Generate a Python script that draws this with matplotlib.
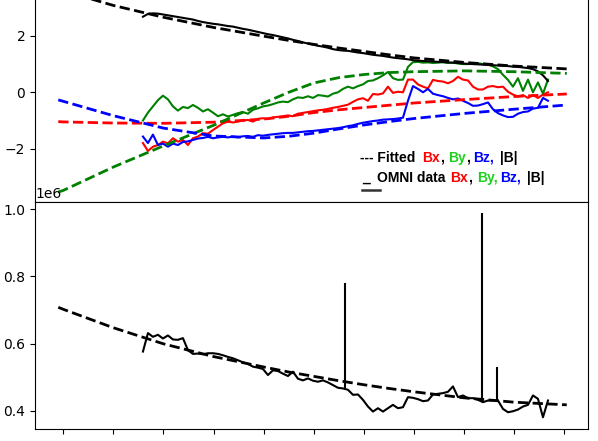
import matplotlib
matplotlib.use('Agg')
import matplotlib.pyplot as plt
import numpy as np

# fitted curves (top: Bx, By, Bz, |B|; bottom: second quantity)
fit_x = [-0.1, 0, 1, 2, 3, 4, 4.5, 5, 5.5, 6, 6.5, 7, 8, 9, 10.05]
fit_bx = [-1.04, -1.05, -1.09, -1.1, -1.06, -0.95, -0.85, -0.72, -0.62, -0.54, -0.46, -0.38, -0.26, -0.15, -0.06]
fit_by = [-3.54, -3.48, -2.65, -1.9, -1.17, -0.38, 0.0, 0.33, 0.52, 0.63, 0.7, 0.73, 0.76, 0.73, 0.67]
fit_bz = [-0.27, -0.32, -0.83, -1.27, -1.55, -1.62, -1.56, -1.45, -1.3, -1.16, -1.04, -0.93, -0.75, -0.6, -0.45]
fit_b = [3.65, 3.6, 3.08, 2.66, 2.3, 1.99, 1.84, 1.7, 1.57, 1.45, 1.33, 1.22, 1.06, 0.93, 0.83]
fit_p = [0.708, 0.702, 0.647, 0.599, 0.561, 0.53, 0.515, 0.502, 0.489, 0.477, 0.466, 0.456, 0.438, 0.425, 0.417]

# OMNI data, evenly sampled
omni_bx = [-1.8, -2.08, -1.93, -1.87, -1.75, -1.81, -1.63, -1.75, -1.69, -1.87,
           -1.63, -1.57, -1.45, -1.47, -1.34, -1.22, -1.1, -1.04, -1.07, -1.04,
           -1.0, -0.98, -1.04, -0.94, -0.92, -0.95, -0.89, -0.87, -0.85, -0.82,
           -0.85, -0.76, -0.73, -0.7, -0.67, -0.64, -0.62, -0.59, -0.55, -0.52,
           -0.48, -0.44, -0.34, -0.25, -0.21, -0.3, -0.06, -0.08, -0.04, 0.2,
           -0.02, 0.02, 0.0, 0.45, 0.45, 0.28, 0.2, 0.14, 0.44, 0.4,
           0.38, 0.32, 0.4, 0.55, 0.45, 0.42, 0.2, 0.1, 0.1, 0.2,
           0.22, 0.18, 0.2, 0.02, -0.08, -0.15, -0.1, -0.2, -0.1, -0.2,
           -0.08, 0.0]
omni_by = [-1.0, -0.72, -0.5, -0.28, -0.12, -0.25, -0.5, -0.65, -0.52, -0.56,
           -0.45, -0.55, -0.68, -0.6, -0.72, -0.85, -0.78, -0.86, -0.8, -0.74,
           -0.7, -0.76, -0.62, -0.57, -0.5, -0.47, -0.42, -0.36, -0.33, -0.35,
           -0.25, -0.18, -0.2, -0.14, -0.2, -0.1, -0.12, -0.15, -0.05, 0.0,
           0.12, 0.2, 0.14, 0.22, 0.28, 0.4, 0.42, 0.5, 0.6, 0.72,
           0.5, 0.44, 0.45, 0.9, 1.07, 1.08, 1.05, 1.06, 1.04, 1.05,
           1.07, 1.04, 1.05, 1.02, 1.0, 1.0, 1.02, 1.03, 1.0, 0.98,
           0.92, 0.82, 0.62, 0.44, 0.2, 0.5, 0.05, 0.45, 0.0, 0.35,
           -0.05, 0.45]
omni_bz = [-1.57, -1.8, -1.5, -1.87, -1.82, -1.93, -1.82, -1.87, -1.76, -1.74,
           -1.69, -1.64, -1.62, -1.58, -1.63, -1.6, -1.58, -1.6, -1.57, -1.6,
           -1.56, -1.55, -1.58, -1.52, -1.54, -1.51, -1.49, -1.47, -1.45, -1.44,
           -1.44, -1.42, -1.4, -1.38, -1.37, -1.35, -1.33, -1.31, -1.29, -1.27,
           -1.24, -1.2, -1.17, -1.12, -1.08, -1.05, -1.02, -1.0, -0.97, -0.96,
           -0.95, -0.93, -0.9, -0.3, 0.22, 0.12, 0.0, 0.12, -0.05, -0.1,
           -0.14, -0.2, -0.25, -0.22, -0.3, -0.38, -0.48, -0.47, -0.42, -0.36,
           -0.6, -0.74, -0.82, -0.88, -0.87, -0.76, -0.7, -0.68, -0.58, -0.55,
           -0.2, -0.3]
omni_b = [2.68, 2.78, 2.8, 2.79, 2.76, 2.73, 2.7, 2.67, 2.64, 2.61,
          2.58, 2.53, 2.49, 2.46, 2.43, 2.41, 2.38, 2.35, 2.33, 2.29,
          2.25, 2.22, 2.18, 2.14, 2.1, 2.06, 2.03, 1.99, 1.95, 1.91,
          1.86, 1.82, 1.77, 1.73, 1.69, 1.65, 1.62, 1.58, 1.53, 1.5,
          1.48, 1.47, 1.44, 1.41, 1.39, 1.36, 1.33, 1.31, 1.29, 1.26,
          1.23, 1.21, 1.19, 1.17, 1.14, 1.12, 1.11, 1.1, 1.09, 1.08,
          1.07, 1.06, 1.05, 1.04, 1.02, 1.01, 1.0, 0.99, 0.98, 0.97,
          0.96, 0.95, 0.94, 0.93, 0.91, 0.9, 0.88, 0.86, 0.82, 0.74,
          0.6, 0.4]
omni_p = [0.576, 0.631, 0.62, 0.626, 0.615, 0.624, 0.612, 0.611, 0.616, 0.58,
          0.569, 0.57, 0.568, 0.571, 0.571, 0.569, 0.565, 0.56, 0.556, 0.55,
          0.544, 0.539, 0.531, 0.528, 0.524, 0.506, 0.52, 0.518, 0.51, 0.503,
          0.516, 0.495, 0.49, 0.496, 0.489, 0.486, 0.49, 0.484, 0.476, 0.468,
          0.466, 0.462, 0.447, 0.448, 0.432, 0.412, 0.397, 0.407, 0.397, 0.407,
          0.417, 0.407, 0.41, 0.44, 0.438, 0.434, 0.428, 0.43, 0.448, 0.45,
          0.452, 0.456, 0.472, 0.44, 0.445, 0.437, 0.437, 0.432, 0.425, 0.43,
          0.43, 0.43, 0.405, 0.395, 0.398, 0.403, 0.412, 0.417, 0.445, 0.435,
          0.38, 0.43]
spike_x = [5.62, 8.35, 8.65]
spike_lo = [0.466, 0.43, 0.43]
spike_hi = [0.78, 0.99, 0.531]

omni_x = np.linspace(1.59, 9.675, len(omni_b))

fig = plt.figure(figsize=(5.98, 4.41), dpi=100)
ax1 = fig.add_axes([0.0585, 0.542, 0.9247, 0.5147])
ax2 = fig.add_axes([0.0585, 0.0272, 0.9247, 0.5147], sharex=ax1)

ax1.plot(omni_x, omni_bx, color='red', lw=1.5)
ax1.plot(omni_x, omni_by, color='green', lw=1.5)
ax1.plot(omni_x, omni_bz, color='blue', lw=1.5)
ax1.plot(omni_x, omni_b, color='black', lw=1.5)
ax1.plot(fit_x, fit_bx, '--', color='red', lw=2)
ax1.plot(fit_x, fit_by, '--', color='green', lw=2)
ax1.plot(fit_x, fit_bz, '--', color='blue', lw=2)
ax1.plot(fit_x, fit_b, '--', color='black', lw=2)
ax1.set_ylim(-3.89, 4.16)
ax1.set_yticks([-2, 0, 2])
ax1.tick_params(bottom=False, labelbottom=False)

ax2.plot(omni_x, np.array(omni_p) * 1e6, color='black', lw=1.5)
ax2.vlines(np.array(spike_x), np.array(spike_lo) * 1e6, np.array(spike_hi) * 1e6,
           color='black', lw=1.5)
ax2.plot(fit_x, np.array(fit_p) * 1e6, '--', color='black', lw=2)
ax2.set_ylim(0.345e6, 1.022e6)
ax2.set_yticks([0.4e6, 0.6e6, 0.8e6, 1.0e6])
ax2.set_xlim(-0.565, 10.473)
ax2.set_xticks(range(11))
ax2.tick_params(labelbottom=False)

# hand-made legend
W, H = 598.0, 441.0
lf = dict(fontsize=10, fontweight='bold', family=['Liberation Sans', 'DejaVu Sans'], va='baseline')
line1 = [('--- Fitted', 'black', 360), ('Bx', 'red', 421.7), (',', 'black', 440),
         ('By', '#1fd01f', 448.3), (',', 'black', 466.5), ('Bz,', 'blue', 473.3),
         ('|B|', 'black', 500)]
line2 = [('_', 'black', 361.7), ('OMNI data', 'black', 376.7), ('Bx', 'red', 450),
         (',', 'black', 468.5), ('By,', '#1fd01f', 476.7), ('Bz,', 'blue', 500),
         ('|B|', 'black', 526.7)]
for s, c, px in line1:
    fig.text(px / W, 1 - 161.7 / H, s, color=c, **lf)
for s, c, px in line2:
    fig.text(px / W, 1 - 181.7 / H, s, color=c, **lf)
fig.add_artist(plt.Line2D([361.7 / W, 380 / W], [1 - 190 / H, 1 - 190 / H], color='#333333', lw=1.8))

fig.savefig('out.png', dpi=100)
